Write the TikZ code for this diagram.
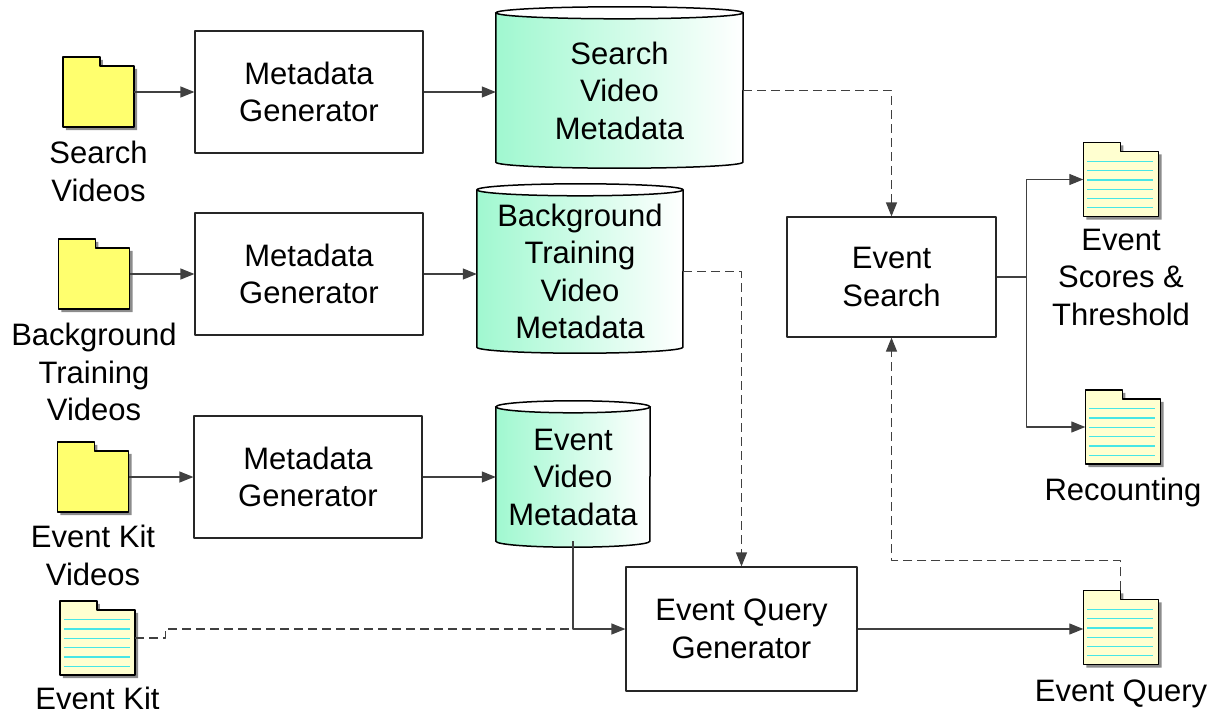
\documentclass[tikz,border=0pt]{standalone}
\usepackage{fontspec}
\setmainfont{Liberation Sans}
\usetikzlibrary{arrows.meta,positioning,shadows,backgrounds}

\definecolor{vidyellow}{RGB}{255,255,110}
\definecolor{docyellow}{RGB}{255,255,208}
\definecolor{docline}{RGB}{70,230,230}
\definecolor{dbgreen}{RGB}{160,248,208}
\definecolor{linegray}{RGB}{64,64,64}

\tikzset{
  every node/.style={font=\fontsize{31}{37.5}\selectfont},
  proc/.style={draw=black!85,line width=1.2pt,minimum width=228pt,minimum height=122pt,align=center,inner sep=0pt},
  store/.style={align=center,inner sep=0pt},
  folder/.style={minimum width=71pt,minimum height=70pt,inner sep=0pt},
  paper/.style={minimum width=75pt,minimum height=74pt,inner sep=0pt},
  caption/.style={align=center,inner sep=0pt},
  flow/.style={linegray,line width=1.2pt,->},
  flowdash/.style={flow,dash pattern=on 9pt off 5pt},
  iconline/.style={draw=black,line width=1.5pt,drop shadow={shadow xshift=3pt,shadow yshift=-3pt,fill=black!45,opacity=1}},
}

\begin{document}
\begin{tikzpicture}[x=1pt,y=-1pt,>={Triangle[length=14pt,width=11pt]},line join=round]
    \useasboundingbox (0,0) rectangle (1216,709);
    % inputs
    \node[folder] (sv) at (98.5,92) {};
    \node[folder] (bv) at (94,274) {};
    \node[folder] (ev) at (93,477) {};
    \node[paper] (ek) at (97.5,638) {};
    \node[caption,below=14pt of sv] (svcap) {Search\\Videos};
    \node[caption,below=14pt of bv] (bvcap) {Background\\Training\\Videos};
    \node[caption,below=13pt of ev] (evcap) {Event Kit\\Videos};
    \node[caption,below=12pt of ek] (ekcap) {Event Kit};
    % metadata generators
    \node[proc] (mg1) at (309,92) {Metadata\\Generator};
    \node[proc] (mg2) at (309,274) {Metadata\\Generator};
    \node[proc] (mg3) at (308,477) {Metadata\\Generator};
    % stores
    \node[store,minimum width=247pt,minimum height=143pt] (svm) at (619.5,90.5) {Search\\Video\\Metadata};
    \node[store,minimum width=206pt,minimum height=151pt] (btm) at (580,271.5) {Background\\Training\\Video\\Metadata};
    \node[store,minimum width=154pt,minimum height=128pt] (evm) at (573,477) {Event\\Video\\Metadata};
    \begin{scope}[on background layer]
    \foreach \n/\r in {svm/123.5,btm/103,evm/77}{
      \fill[left color=dbgreen,right color=white] ([yshift=6pt]\n.north west) -- (\n.south west)
        arc[start angle=180,end angle=360,x radius=\r pt,y radius=6pt] -- ([yshift=6pt]\n.north east)
        arc[start angle=0,end angle=-180,x radius=\r pt,y radius=6pt] -- cycle;
      \draw[line width=1.5pt,fill=white] ([yshift=6pt]\n.north) ellipse[x radius=\r pt,y radius=6pt];
      \draw[line width=1.5pt] ([yshift=6pt]\n.north west) -- (\n.south west)
        arc[start angle=180,end angle=360,x radius=\r pt,y radius=6pt] -- ([yshift=6pt]\n.north east);
    }
    \end{scope}
    % search
    \node[proc,minimum width=209pt,minimum height=120pt] (es) at (891.5,277) {Event\\Search};
    \node[proc,minimum width=231pt,minimum height=124pt] (eqg) at (741.5,629) {Event Query\\Generator};
    % outputs
    \node[paper] (scores) at (1121,179.5) {};
    \node[paper] (recount) at (1123,427) {};
    \node[paper] (eq) at (1121,627.5) {};
    \node[caption,below=12pt of scores] (scorescap) {Event\\Scores \&\\Threshold};
    \node[caption,below=14pt of recount] (recountcap) {Recounting};
    \node[caption,below=15pt of eq] (eqcap) {Event Query};
    % icons
    \foreach \n/\c in {sv/vidyellow,bv/vidyellow,ev/vidyellow,ek/docyellow,scores/docyellow,recount/docyellow,eq/docyellow}
      \draw[iconline,fill=\c] (\n.south west) -- (\n.north west) -- ++(37,0) -- ++(0,9)
        -- ([yshift=-9pt]\n.north east) -- (\n.south east) -- cycle;
    \foreach \n in {ek,scores,recount,eq}
      \foreach \k in {0,...,5}
        \draw[docline,line width=1.3pt] (\n.north west) ++(4,{19+9.3*\k}) -- ++(66,0);
    % connectors
    \draw[flow] (sv.east) -- (mg1.west);
    \draw[flow] (bv.east) -- (mg2.west);
    \draw[flow] (ev.east) -- (mg3.west);
    \draw[flow] (mg1.east) -- (mg1.east -| svm.west);
    \draw[flow] (mg2.east) -- (mg2.east -| btm.west);
    \draw[flow] (mg3.east) -- (evm.west);
    \draw[flowdash] (svm.east) -| (es.north);
    \draw[flowdash] (btm.east) -| (eqg.north);
    \draw[flowdash,-] (ek.east) -- ++(30,0) |- (evm.south |- eqg.west);
    \draw[flow] (evm.south) |- (eqg.west);
    \draw[flow] (eqg.east) -- (eqg.east -| eq.west);
    \draw[flowdash] ([xshift=37pt]eq.north west) -- ++(0,-30) -| (es.south);
    \draw[flow,-] (es.east) -- ++(30,0) coordinate (fork);
    \draw[flow] (fork) |- (scores.west);
    \draw[flow] (fork) |- (recount.west);
\end{tikzpicture}
\end{document}
